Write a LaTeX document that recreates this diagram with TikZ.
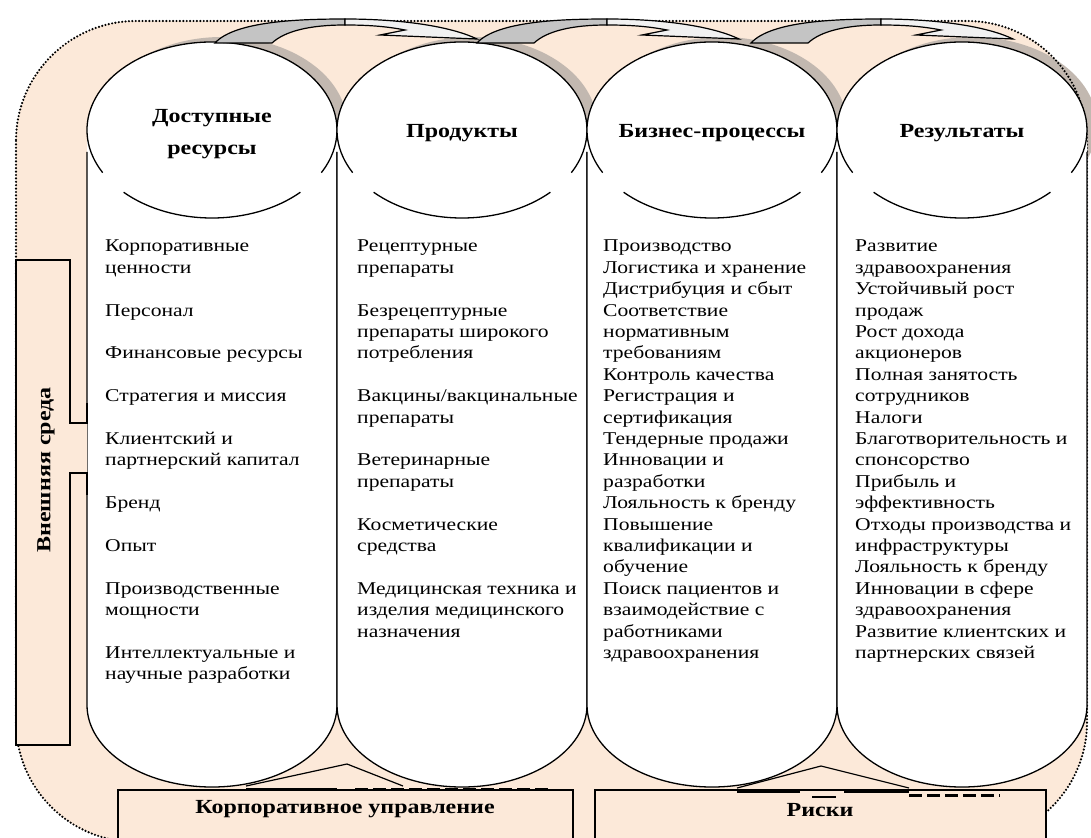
\documentclass[tikz,border=0pt]{standalone}
\usepackage{fontspec}
\setmainfont[FakeStretch=1.2]{Liberation Serif}
\usetikzlibrary{calc}
\definecolor{envFill}{RGB}{252,233,217}
\definecolor{shadowTone}{RGB}{194,184,176}
\definecolor{arrowGray}{RGB}{196,196,196}
\definecolor{arrowLight}{RGB}{241,241,241}
\newcommand{\itemgap}{\\[21.4pt]}
\tikzset{
    every node/.append style={inner sep=0pt},
    frame/.style={draw=black,line width=2.4pt,dash pattern=on 0pt off 3.4pt,line cap=round,rounded corners=120},
    coledge/.style={draw=black,line width=1.3pt},
    boxedge/.style={draw=black,line width=2.4pt,fill=envFill},
    thin/.style={draw=black,line width=1.2pt},
    dashbar/.style={draw=black,line width=3pt,dash pattern=on 13pt off 5pt},
    title/.style={font=\fontsize{20}{32}\selectfont\bfseries,align=center},
    items/.style={font=\fontsize{18}{21.4}\selectfont,align=left,anchor=north west},
    scrollshade/.pic={
        \fill[shadowTone] (10,-5) ellipse[x radius=125,y radius=88];
    },
    scroll/.pic={
        \fill[white] (-125,0) arc[start angle=180,end angle=360,x radius=125,y radius=88]
            -- (125,575) arc[start angle=0,end angle=180,x radius=125,y radius=82] -- cycle;
        \draw[coledge] (-125,22) -- (-125,575) arc[start angle=180,end angle=0,x radius=125,y radius=82] -- (125,22);
        \draw[coledge] (151:125 and 88) arc[start angle=151,end angle=389,x radius=125,y radius=88];
        \draw[coledge] (45:125 and 88) arc[start angle=45,end angle=135,x radius=125,y radius=88];
    },
    turn/.pic={
        \filldraw[thin,fill=arrowGray] (0,0) .. controls (20,-22) and (85,-24) .. (130,-24)
            -- (130,-18) .. controls (95,-18) and (70,-12) .. (57,0) -- cycle;
        \filldraw[thin,fill=arrowLight] (130,-24) .. controls (185,-24) and (235,-17) .. (262,-4)
            -- (165,-8) -- (190,-13) .. controls (170,-17) and (150,-18) .. (130,-18) -- cycle;
    }
}

\begin{document}
\begin{tikzpicture}[x=1pt,y=-1pt]
    \useasboundingbox (0,0) rectangle (1091,837);
    \clip (0,0) rectangle (1091,837);
    \fill[envFill,rounded corners=120] (16,21) rectangle (1087,842);

    \pic at (212,130) {scrollshade};
    \pic at (462,130) {scrollshade};
    \pic at (712,130) {scrollshade};
    \pic at (962,130) {scrollshade};
    \draw[frame] (16,21) rectangle (1087,842);

    \pic at (212,130) {scroll};
    \pic at (462,130) {scroll};
    \pic at (712,130) {scroll};
    \pic at (962,130) {scroll};

    \pic at (215,43) {turn};
    \pic at (477,43) {turn};
    \pic at (751,43) {turn};

    \draw[boxedge] (87,403) -- (87,423) -- (70,423) -- (70,260) -- (16,260) -- (16,745)
        -- (70,745) -- (70,473) -- (87,473) -- (87,495);
    \node[title,rotate=90] (env) at (46,470) {Внешняя среда};

    \draw[boxedge] (118,790) rectangle (573,860);
    \draw[boxedge] (595,790) rectangle (1046,860);
    \node[title] (gov)  at (345,809) {Корпоративное управление};
    \node[title] (risk) at (820,810) {Риски};

    \draw[thin] (246,786) -- (347,764) -- (403,786);
    \draw[thin] (246,789) -- (337,789);
    \draw[dashbar] (355,789) -- (548,789);
    \draw[thin] (737,788) -- (821,766) -- (909,788);
    \draw[thin] (737,792) -- (800,792);
    \draw[thin] (844,792) -- (909,792);
    \draw[thin] (812,797) -- (836,797);
    \draw[dashbar] (909,795) -- (1000,795);

    \node[title] (resT)    at (212,134) {Доступные\\ресурсы};
    \node[title] (prodT)   at (462,133) {Продукты};
    \node[title] (procT)   at (712,133) {Бизнес-процессы};
    \node[title] (resultT) at (962,133) {Результаты};

    \node[items] (resL) at (105,240) {Корпоративные\\ценности\itemgap Персонал\itemgap
        Финансовые ресурсы\itemgap Стратегия и миссия\itemgap Клиентский и\\партнерский капитал\itemgap
        Бренд\itemgap Опыт\itemgap Производственные\\мощности\itemgap Интеллектуальные и\\научные разработки};
    \node[items] (prodL) at (357,240) {Рецептурные\\препараты\itemgap Безрецептурные\\препараты широкого\\потребления\itemgap
        Вакцины/вакцинальные\\препараты\itemgap Ветеринарные\\препараты\itemgap Косметические\\средства\itemgap
        Медицинская техника и\\изделия медицинского\\назначения};
    \node[items] (procL) at (603,240) {Производство\\Логистика и хранение\\Дистрибуция и сбыт\\Соответствие\\нормативным\\требованиям\\
        Контроль качества\\Регистрация и\\сертификация\\Тендерные продажи\\Инновации и\\разработки\\
        Лояльность к бренду\\Повышение\\квалификации и\\обучение\\Поиск пациентов и\\взаимодействие с\\работниками\\здравоохранения};
    \node[items] (resultL) at (855,240) {Развитие\\здравоохранения\\Устойчивый рост\\продаж\\Рост дохода\\акционеров\\
        Полная занятость\\сотрудников\\Налоги\\Благотворительность и\\спонсорство\\Прибыль и\\эффективность\\
        Отходы производства и\\инфраструктуры\\Лояльность к бренду\\Инновации в сфере\\здравоохранения\\
        Развитие клиентских и\\партнерских связей};
\end{tikzpicture}
\end{document}
